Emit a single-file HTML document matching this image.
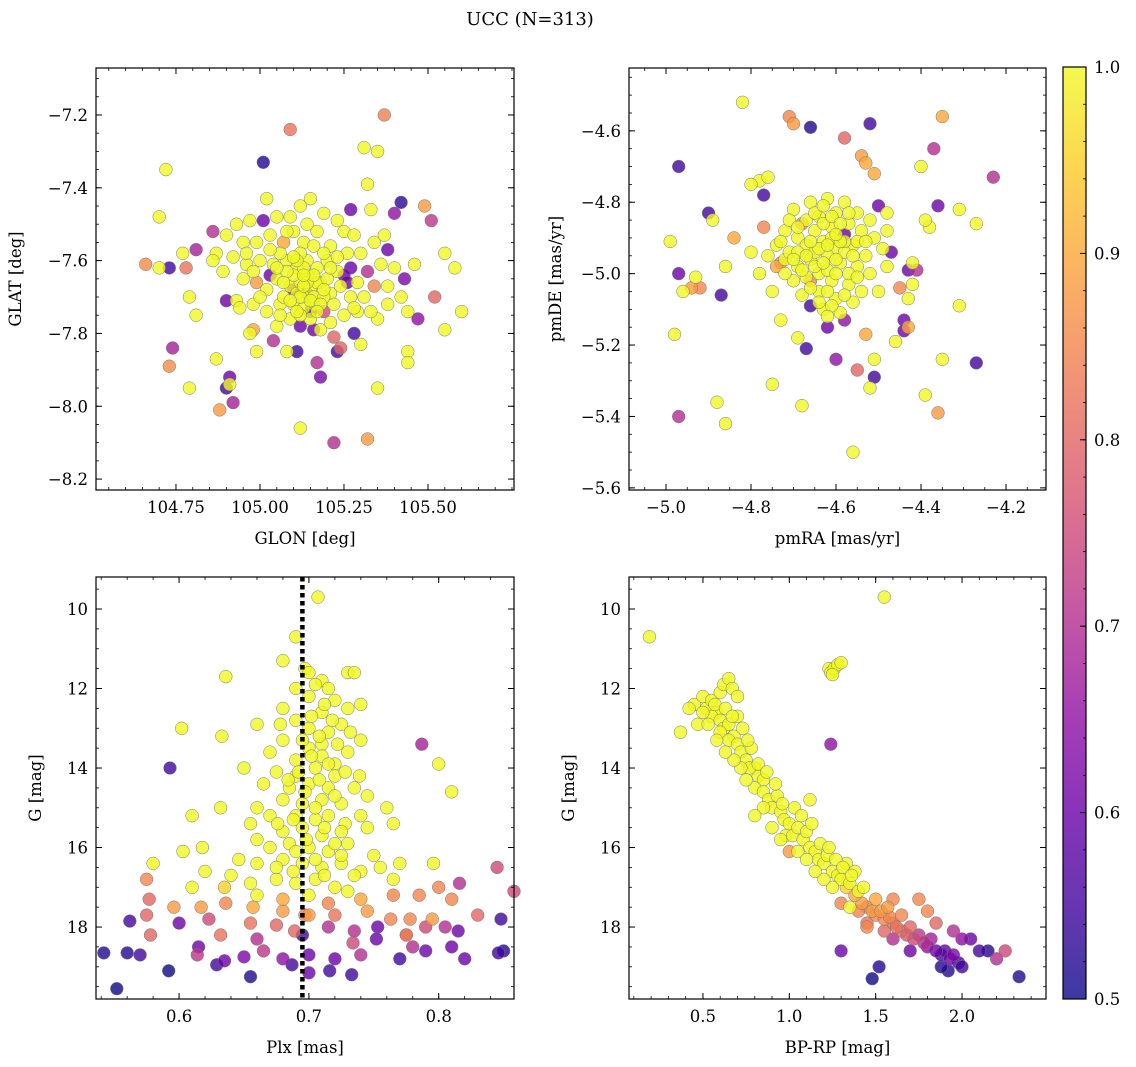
<!DOCTYPE html>
<html><head><meta charset="utf-8">
<style>
html,body{margin:0;padding:0;background:#fff;}
svg{display:block;font-family:"DejaVu Serif","Liberation Serif",serif;}
</style></head>
<body>
<svg id="fig" width="1136" height="1067" viewBox="0 0 1136 1067" xmlns="http://www.w3.org/2000/svg">
<text x="530" y="25" text-anchor="middle" font-size="18">UCC (N=313)</text>
</svg>
<script>
// ---------- data ----------
const stars1 = [
[105.09,-7.24,.82],[105.37,-7.20,.84],[104.72,-7.35,1],[105.01,-7.33,.52],[105.31,-7.29,1],[105.35,-7.30,1],[104.70,-7.48,1],[105.42,-7.44,.53],[105.51,-7.49,.72],[105.49,-7.45,.88],
[104.73,-7.62,.55],[104.66,-7.61,.86],[104.70,-7.62,1],[104.77,-7.58,1],[104.78,-7.62,.82],[104.79,-7.70,1],[104.81,-7.57,.68],[104.86,-7.52,.7],[104.79,-7.95,1],[104.74,-7.84,.68],
[104.73,-7.89,.86],[104.87,-7.87,1],[104.88,-8.01,.88],[104.90,-7.95,.55],[104.91,-7.92,.6],[104.91,-7.94,1],[104.92,-7.99,.68],[104.93,-7.71,1],[104.90,-7.71,.6],[104.81,-7.75,1],
[104.87,-7.58,1],[105.12,-8.06,1],[105.22,-8.10,.7],[105.32,-8.09,.88],[105.35,-7.95,1],[105.44,-7.85,1],[105.44,-7.88,1],[105.55,-7.79,1],[105.52,-7.70,.8],[105.58,-7.62,1],
[105.60,-7.74,1],[105.55,-7.58,1],[105.46,-7.61,1],[105.43,-7.65,.62],[105.47,-7.76,.65],[105.38,-7.57,.6],[105.40,-7.47,.65],[105.33,-7.46,1],[105.32,-7.39,1],[105.27,-7.46,.6],
[105.35,-7.76,1],[105.28,-7.80,.55],[105.23,-7.85,.55],[105.18,-7.92,.62],[105.17,-7.88,.7],[105.11,-7.85,.55],[105.08,-7.85,1],[104.99,-7.85,1],[104.97,-7.80,1],[104.98,-7.79,.9],
[105.04,-7.82,.7],[105.24,-7.84,.8],[105.30,-7.83,1],
[105.02,-7.43,1],[105.05,-7.48,1],[105.09,-7.48,1],[105.12,-7.45,1],[105.15,-7.43,1],[105.19,-7.47,1],[105.23,-7.49,1],[105.25,-7.52,1],[105.28,-7.53,1],[105.10,-7.52,1],
[104.97,-7.49,1],[104.93,-7.50,1],[104.90,-7.53,1],[104.95,-7.55,1],[104.99,-7.55,1],[105.03,-7.53,1],[105.07,-7.55,.9],[105.13,-7.55,1],[105.17,-7.52,1],[105.21,-7.56,1],
[105.26,-7.58,1],[105.30,-7.58,1],[105.34,-7.55,1],[105.36,-7.61,1],[105.32,-7.63,.7],[104.86,-7.60,1],[104.89,-7.63,1],[104.92,-7.59,1],[104.96,-7.61,1],[105.00,-7.60,1],
[105.04,-7.61,1],[105.08,-7.60,1],[105.11,-7.62,1],[105.14,-7.60,1],[105.17,-7.62,1],[105.20,-7.60,1],[105.23,-7.63,1],[105.27,-7.62,.6],[105.29,-7.66,1],[104.95,-7.65,1],
[104.99,-7.66,.88],[105.02,-7.68,1],[105.05,-7.65,1],[105.09,-7.67,1],[105.12,-7.66,1],[105.15,-7.68,1],[105.18,-7.66,1],[105.21,-7.69,1],[105.24,-7.67,1],[105.27,-7.70,1],
[105.31,-7.70,1],[105.34,-7.67,.85],[104.94,-7.73,1],[104.98,-7.72,1],[105.02,-7.74,1],[105.06,-7.72,1],[105.10,-7.72,1],[105.13,-7.70,1],[105.16,-7.72,1],[105.19,-7.74,.75],
[105.22,-7.72,1],[105.25,-7.75,1],[105.29,-7.74,1],[105.33,-7.74,1],[105.38,-7.72,1],[105.42,-7.70,1],[105.44,-7.74,1],[105.05,-7.78,1],[105.09,-7.76,1],[105.12,-7.78,.6],
[105.15,-7.76,1],[105.18,-7.79,1],[105.21,-7.77,1],[105.14,-7.64,1],[105.16,-7.70,1],[105.13,-7.73,1],[105.17,-7.66,1],[105.11,-7.69,1],[105.15,-7.74,.55],[105.19,-7.70,1],
[105.07,-7.70,1],[105.10,-7.64,1],[105.20,-7.65,1],[105.12,-7.58,1],[105.16,-7.56,1],[105.06,-7.58,1],[105.03,-7.64,.6],[105.25,-7.64,.6],[105.22,-7.81,.8],[105.01,-7.49,.6],
[105.38,-7.67,1],[105.40,-7.62,1],[105.37,-7.53,1],[104.98,-7.63,1],[105.08,-7.63,1],[105.13,-7.62,1],
[105.11,-7.60,1],[105.14,-7.66,1],[105.12,-7.70,1],[105.15,-7.71,1],[105.18,-7.72,1],[105.13,-7.67,1],[105.16,-7.64,1],[105.10,-7.68,.6],[105.14,-7.69,.55],[105.17,-7.74,1],
[105.12,-7.75,1],[105.09,-7.71,1],[105.19,-7.68,1],[105.21,-7.62,1],[105.07,-7.66,1],[105.05,-7.62,1],[105.03,-7.57,1],[105.00,-7.70,1],[104.96,-7.58,1],[105.23,-7.59,1],
[105.26,-7.66,.6],[105.28,-7.73,1],[105.10,-7.59,1],[105.08,-7.52,1],[105.14,-7.50,1],[105.19,-7.58,1],[105.06,-7.75,1],[105.16,-7.79,.6],[105.11,-7.74,1],[105.13,-7.64,1]
];
const stars2 = [
[-4.82,-4.52,1],[-4.71,-4.56,.85],[-4.70,-4.58,.88],[-4.66,-4.59,.52],[-4.52,-4.58,.55],[-4.58,-4.62,.8],[-4.35,-4.56,.9],[-4.97,-4.70,.55],[-4.54,-4.67,.88],[-4.53,-4.69,.9],
[-4.51,-4.72,.9],[-4.40,-4.70,1],[-4.37,-4.65,.7],[-4.23,-4.73,.7],[-4.78,-4.74,1],[-4.76,-4.73,1],[-4.80,-4.75,1],[-4.77,-4.78,.55],[-4.90,-4.83,.55],[-4.89,-4.85,1],
[-4.99,-4.91,1],[-4.84,-4.90,.9],[-4.86,-4.98,1],[-4.93,-5.01,1],[-4.97,-5.00,.6],[-4.94,-5.04,.88],[-4.92,-5.04,.85],[-4.96,-5.05,1],[-4.87,-5.06,.55],[-4.98,-5.17,1],
[-4.97,-5.40,.7],[-4.88,-5.36,1],[-4.86,-5.42,1],[-4.75,-5.31,1],[-4.67,-5.21,.55],[-4.68,-5.37,1],[-4.60,-5.24,.65],[-4.55,-5.27,.8],[-4.56,-5.50,1],[-4.51,-5.29,.55],
[-4.52,-5.32,1],[-4.51,-5.24,1],[-4.46,-5.19,1],[-4.44,-5.13,.6],[-4.44,-5.16,.6],[-4.43,-5.15,.9],[-4.36,-5.39,.88],[-4.35,-5.24,1],[-4.39,-5.34,1],[-4.31,-5.09,1],
[-4.27,-5.25,.55],[-4.42,-5.03,1],[-4.43,-4.99,.6],[-4.41,-4.99,.7],[-4.47,-4.94,.6],[-4.38,-4.87,1],[-4.36,-4.81,.6],[-4.39,-4.85,1],[-4.31,-4.82,1],[-4.27,-4.86,1],
[-4.42,-4.97,1],[-4.48,-4.83,1],[-4.50,-4.81,.6],[-4.48,-4.98,1],[-4.45,-5.04,.85],[-4.43,-5.07,1],[-4.73,-5.13,1],[-4.74,-4.98,.9],[-4.72,-4.96,1],[-4.66,-5.09,.55],
[-4.62,-5.15,.6],[-4.58,-5.13,.65],[-4.53,-5.17,.9],[-4.69,-5.18,1],
[-4.70,-4.82,1],[-4.66,-4.80,1],[-4.62,-4.79,1],[-4.58,-4.80,1],[-4.55,-4.83,1],[-4.52,-4.85,1],[-4.68,-4.86,.85],[-4.64,-4.84,1],[-4.60,-4.83,1],[-4.57,-4.86,1],
[-4.72,-4.88,1],[-4.69,-4.90,1],[-4.65,-4.88,1],[-4.61,-4.87,1],[-4.58,-4.89,.6],[-4.54,-4.88,1],[-4.51,-4.90,1],[-4.74,-4.92,1],[-4.71,-4.94,1],[-4.67,-4.92,1],
[-4.63,-4.91,1],[-4.60,-4.93,1],[-4.56,-4.92,1],[-4.53,-4.95,1],[-4.49,-4.93,1],[-4.73,-4.97,.85],[-4.69,-4.98,1],[-4.66,-4.96,1],[-4.62,-4.95,1],[-4.59,-4.97,1],
[-4.55,-4.98,1],[-4.52,-5.00,1],[-4.70,-5.02,1],[-4.67,-5.01,1],[-4.64,-5.00,1],[-4.61,-5.02,1],[-4.57,-5.03,1],[-4.54,-5.05,1],[-4.68,-5.06,1],[-4.64,-5.05,1],
[-4.60,-5.07,1],[-4.56,-5.08,1],[-4.63,-5.10,1],[-4.59,-5.11,1],[-4.62,-4.99,1],[-4.65,-4.94,1],[-4.58,-4.94,1],[-4.63,-4.86,1],[-4.66,-5.04,1],[-4.71,-4.85,1],
[-4.76,-4.95,1],[-4.78,-5.00,1],[-4.75,-5.05,1],[-4.77,-4.87,.85],[-4.80,-4.94,1],[-4.50,-5.05,1],[-4.48,-4.88,1],[-4.61,-4.90,1],[-4.57,-5.00,1],[-4.65,-4.98,1],
[-4.69,-4.94,1],[-4.73,-4.91,1],[-4.55,-4.91,1],[-4.62,-5.05,1],
[-4.64,-4.93,1],[-4.60,-4.96,1],[-4.62,-4.92,1],[-4.58,-4.91,1],[-4.66,-4.91,1],[-4.63,-4.97,1],[-4.61,-4.84,1],[-4.59,-4.86,1],[-4.56,-4.95,1],[-4.67,-4.85,1],
[-4.69,-4.87,1],[-4.65,-4.83,1],[-4.60,-5.00,1],[-4.58,-5.06,1],[-4.55,-5.01,1],[-4.53,-4.91,1],[-4.70,-4.96,1],[-4.68,-4.99,1],[-4.66,-5.02,.85],[-4.64,-5.08,1],
[-4.61,-5.09,1],[-4.57,-4.83,1],[-4.63,-4.81,1],[-4.59,-4.91,1],[-4.67,-4.95,1],[-4.72,-5.00,1],[-4.60,-4.89,1],[-4.62,-5.12,1]
];
const stars3 = [
[0.707,9.7,1],[0.69,10.7,1],[0.68,11.3,1],[0.697,11.5,1],[0.70,11.6,1],[0.71,11.8,1],[0.73,11.6,1],[0.735,11.6,1],[0.636,11.7,1],[0.69,12.0,1],
[0.70,12.2,1],[0.715,12.0,1],[0.72,12.3,1],[0.68,12.5,1],[0.71,12.6,1],[0.73,12.5,1],[0.74,12.4,1],[0.602,13.0,1],[0.66,12.9,1],[0.69,12.8,1],
[0.70,13.0,1],[0.715,13.1,1],[0.725,12.9,1],[0.633,13.2,1],[0.68,13.3,1],[0.70,13.5,1],[0.71,13.4,1],[0.73,13.6,1],[0.74,13.3,1],[0.67,13.6,1],
[0.69,13.8,1],[0.71,13.7,1],[0.72,13.9,1],[0.65,14.0,1],[0.675,14.1,1],[0.69,14.2,1],[0.705,14.0,1],[0.72,14.2,1],[0.739,14.2,1],[0.80,13.9,1],
[0.787,13.4,.68],[0.593,14.0,.55],[0.665,14.4,1],[0.685,14.5,1],[0.70,14.4,1],[0.715,14.5,1],[0.735,14.5,1],[0.81,14.6,1],[0.68,14.8,1],[0.695,14.9,1],
[0.71,14.8,1],[0.725,14.9,1],[0.745,14.7,1],[0.632,15.0,1],[0.66,15.0,1],[0.67,15.2,1],[0.69,15.2,1],[0.705,15.3,1],[0.715,15.2,1],[0.728,15.4,1],
[0.74,15.2,1],[0.76,15.0,1],[0.61,15.2,1],[0.655,15.4,1],[0.68,15.6,1],[0.695,15.5,1],[0.71,15.7,1],[0.725,15.6,1],[0.745,15.5,1],[0.765,15.4,1],
[0.66,15.8,1],[0.67,16.0,1],[0.685,15.9,1],[0.70,16.0,1],[0.715,16.1,1],[0.73,15.9,1],[0.75,16.2,1],[0.603,16.1,1],[0.618,16.0,1],[0.646,16.3,1],
[0.66,16.4,1],[0.68,16.3,1],[0.695,16.4,1],[0.71,16.5,1],[0.725,16.4,1],[0.74,16.6,1],[0.755,16.5,1],[0.77,16.4,1],[0.796,16.4,1],[0.58,16.4,1],
[0.62,16.6,1],[0.64,16.7,1],[0.655,16.9,1],[0.675,16.8,1],[0.69,16.9,1],[0.705,16.8,1],[0.72,17.0,1],[0.735,16.7,1],[0.765,16.8,1],[0.575,16.8,.85],
[0.61,17.0,1],[0.635,17.0,.95],[0.66,17.2,1],[0.68,17.3,.9],[0.70,17.2,1],[0.715,17.4,.85],[0.74,17.3,.9],[0.765,17.2,.85],[0.785,17.2,.85],[0.80,17.0,.85],
[0.81,17.3,.85],[0.577,17.3,.8],[0.596,17.5,.88],[0.617,17.5,.88],[0.636,17.4,.85],[0.657,17.5,.9],[0.68,17.6,.88],[0.697,17.7,.85],[0.72,17.7,.82],[0.745,17.6,.88],
[0.763,17.8,.85],[0.778,17.8,.85],[0.795,17.8,.88],[0.83,17.7,.8],[0.845,16.5,.75],[0.858,17.1,.75],[0.816,16.9,.7],[0.575,17.7,.8],[0.562,17.85,.55],[0.60,17.9,.6],
[0.623,17.8,.75],[0.655,17.9,.82],[0.675,17.95,.8],[0.70,17.7,.88],[0.715,18.0,.7],[0.735,18.1,.7],[0.753,18.0,.6],[0.775,18.2,.85],[0.79,18.0,.75],[0.805,18.0,.7],
[0.815,18.1,.6],[0.848,17.8,.55],[0.578,18.2,.8],[0.615,18.5,.6],[0.632,18.2,.82],[0.66,18.3,.7],[0.689,18.1,.8],[0.695,18.2,.55],[0.734,18.4,.75],[0.752,18.3,.6],
[0.775,18.2,.7],[0.78,18.5,.7],[0.81,18.5,.6],[0.542,18.65,.52],[0.56,18.65,.52],[0.57,18.7,.55],[0.614,18.7,.72],[0.635,18.85,.6],[0.65,18.75,.62],[0.665,18.6,.72],
[0.68,18.8,.65],[0.70,18.7,.6],[0.72,18.8,.6],[0.74,18.7,.7],[0.77,18.8,.55],[0.79,18.6,.6],[0.82,18.8,.6],[0.846,18.65,.55],[0.85,18.6,.52],[0.629,18.95,.55],
[0.687,18.95,.55],[0.716,19.1,.55],[0.733,19.2,.55],[0.592,19.1,.5],[0.655,19.25,.52],[0.552,19.55,.5],[0.70,19.15,.6],
[0.705,11.9,1],[0.712,12.4,1],[0.702,12.7,1],[0.718,12.8,1],[0.708,13.2,1],[0.695,13.3,1],[0.722,13.4,1],[0.702,13.7,1],[0.715,13.9,1],[0.692,14.1,1],
[0.708,14.3,1],[0.697,14.6,1],[0.72,14.7,1],[0.705,15.0,1],[0.688,15.3,1],[0.712,15.5,1],[0.698,15.8,1],[0.72,15.9,1],[0.69,16.1,1],[0.705,16.3,1],
[0.725,16.2,1],[0.688,16.6,1],[0.712,16.7,1],[0.73,17.1,1],[0.676,15.4,1],[0.684,14.3,1],[0.728,14.1,1],[0.678,12.9,1],[0.732,13.1,1],[0.675,16.5,1]
];
const stars4 = [
[0.19,10.7,1],[1.55,9.7,1],[1.23,11.5,1],[1.24,11.6,1],[1.26,11.5,1],[1.28,11.4,1],[1.30,11.35,1],[1.25,11.65,1],[1.24,13.4,.65],[0.37,13.1,1],
[0.45,12.4,1],[0.50,12.2,1],[0.52,12.5,1],[0.55,12.3,1],[0.58,12.6,1],[0.60,12.1,1],[0.62,11.9,1],[0.65,11.75,1],[0.67,12.0,1],[0.70,12.2,1],
[0.55,12.7,1],[0.60,12.8,1],[0.62,13.0,1],[0.65,12.9,1],[0.68,13.2,1],[0.60,13.1,1],[0.65,13.3,1],[0.70,13.4,1],[0.72,13.6,1],[0.75,13.8,1],
[0.78,13.5,1],[0.80,14.0,1],[0.82,14.2,1],[0.85,14.3,1],[0.77,14.0,1],[0.80,14.5,1],[0.85,14.6,1],[0.88,14.8,1],[0.90,15.0,1],[0.93,14.7,1],
[0.95,15.1,1],[0.97,15.3,1],[1.00,15.4,1],[0.98,15.7,1],[1.02,15.7,1],[1.05,15.5,1],[1.08,15.8,1],[1.10,15.6,1],[1.12,16.0,1],[1.15,16.1,1],
[1.17,16.3,1],[1.20,16.4,1],[1.05,16.1,1],[1.10,16.3,1],[1.22,16.2,1],[1.25,16.6,1],[1.28,16.7,1],[1.30,16.8,1],[1.33,17.0,.95],[1.35,16.9,1],
[1.38,17.2,.9],[1.40,17.1,1],[1.42,17.4,.88],[1.45,17.5,.85],[1.48,17.6,.88],[1.50,17.7,.85],[1.53,17.6,.88],[1.55,17.8,.85],[1.58,17.75,.85],[1.60,17.9,.82],
[1.62,18.0,.82],[1.65,18.1,.8],[1.68,18.2,.78],[1.70,18.0,.8],[1.72,18.3,.75],[1.75,18.2,.72],[1.78,18.4,.7],[1.80,18.5,.65],[1.82,18.3,.68],[1.85,18.6,.6],
[1.88,18.7,.55],[1.90,18.6,.58],[1.93,18.8,.6],[1.95,18.7,.62],[1.98,18.9,.55],[2.00,19.0,.55],[2.05,18.3,.6],[2.10,18.6,.55],[2.15,18.6,.52],[2.20,18.8,.7],
[2.25,18.6,.75],[2.33,19.25,.52],[1.92,19.1,.52],[1.88,19.0,.52],[1.52,19.0,.52],[1.48,19.3,.5],[1.30,18.6,.6],[1.00,16.1,.88],[0.95,15.8,1],[0.90,15.5,1],
[0.85,15.0,1],[0.80,15.2,1],[0.75,14.3,1],[0.72,14.0,1],[0.68,13.8,1],[0.70,12.7,1],[0.50,12.6,1],[0.47,12.9,1],[0.42,12.5,1],[0.53,12.9,1],
[0.58,13.3,1],[0.63,13.6,1],[1.12,14.8,1],[1.03,15.0,1],[1.30,17.4,.85],[1.40,17.6,.85],[1.35,17.5,1],[1.45,17.9,.82],[1.60,17.3,.85],[1.75,17.3,.85],
[1.80,17.6,.85],[1.85,17.9,.8],[2.00,18.3,.65],[1.95,18.1,.7],[1.70,18.6,.6],[1.60,18.3,.7],[1.55,18.1,.8],[1.45,18.0,.85],[1.25,17.0,1],[1.20,16.8,1],
[1.15,16.6,1],[1.33,16.4,1],[1.38,16.6,1],
[0.57,12.4,1],[0.63,12.5,1],[0.67,12.7,1],[0.73,13.0,1],[0.76,13.3,1],[0.82,13.9,1],[0.87,14.1,1],[0.92,14.4,1],[0.96,14.9,1],[1.07,15.2,1],
[1.13,15.4,1],[1.18,15.9,1],[1.23,16.0,1],[1.27,16.3,1],[1.31,16.5,1],[1.36,16.7,1],[1.43,17.0,1],[1.50,17.3,.9],[1.57,17.5,.88],[1.65,17.7,.85]
];
const plxLine = 0.695;
const p1XTicks = [104.75,105.00,105.25,105.50];
const p1YTicks = [-7.2,-7.4,-7.6,-7.8,-8.0,-8.2];
const p2XTicks = [-5.0,-4.8,-4.6,-4.4,-4.2];
const p2YTicks = [-4.6,-4.8,-5.0,-5.2,-5.4,-5.6];
const p3XTicks = [0.6,0.7,0.8];
const gTicks = [10,12,14,16,18];
const p4XTicks = [0.5,1.0,1.5,2.0];
const cbTicks = [0.5,0.6,0.7,0.8,0.9,1.0];

// ---------- helpers ----------
const NS="http://www.w3.org/2000/svg";
const svg=document.getElementById('fig');
function mk(tag,attrs,parent){const e=document.createElementNS(NS,tag);for(const k in attrs)e.setAttribute(k,attrs[k]);(parent||svg).appendChild(e);return e;}
const stops=['#0d0887','#41049d','#6a00a8','#8f0da4','#b12a90','#cc4778','#e16462','#f2844b','#fca636','#fcce25','#f0f921'];
function hex(h){return [1,3,5].map(i=>parseInt(h.substr(i,2),16));}
function plasma(p){let t=(p-0.5)/0.5;t=Math.max(0,Math.min(1,t))*10;const i=Math.min(9,Math.floor(t)),f=t-i;const a=hex(stops[i]),b=hex(stops[i+1]);return 'rgb('+a.map((v,k)=>Math.round(v+(b[k]-v)*f)).join(',')+')';}
function fmt(v,d){return (v<0?'\u2212':'')+Math.abs(v).toFixed(d);}

function panel(o){
  const g=mk('g',{});
  
  
  const sx=v=>o.x0+(v-o.xmin)/(o.xmax-o.xmin)*(o.x1-o.x0);
  const sy=v=>o.y0+(o.ymax-v)/(o.ymax-o.ymin)*(o.y1-o.y0);
  const pts=o.data.slice().sort((a,b)=>a[2]-b[2]);
  const pg=mk('g',{},g);
  
  
  pts.forEach(d=>{
    const c=mk('circle',{cx:sx(d[0]).toFixed(1),cy:sy(d[1]).toFixed(1),r:6.4,fill:plasma(d[2]),'fill-opacity':0.8,stroke:'#777','stroke-width':0.5},pg);
    
    
  });
  if(o.vline!==undefined){
    const l=mk('line',{x1:sx(o.vline),x2:sx(o.vline),y1:o.y0,y2:o.y1,stroke:'#000','stroke-width':4.5,'stroke-dasharray':'4.5,3.5'},g);
    
    
  }
  const fr=mk('rect',{x:o.x0,y:o.y0,width:o.x1-o.x0,height:o.y1-o.y0,fill:'none',stroke:'#000','stroke-width':1.2},g);
  
  
  const lo=Math.min(o.ymin,o.ymax), hi=Math.max(o.ymin,o.ymax);
  for(let v=Math.ceil(o.xmin/o.xminor)*o.xminor;v<=o.xmax;v+=o.xminor){const x=sx(v);
    mk('line',{x1:x,x2:x,y1:o.y1,y2:o.y1-3,stroke:'#000','stroke-width':0.8},g);mk('line',{x1:x,x2:x,y1:o.y0,y2:o.y0+3,stroke:'#000','stroke-width':0.8},g);}
  for(let v=Math.ceil(lo/o.yminor)*o.yminor;v<=hi;v+=o.yminor){const y=sy(v);
    mk('line',{x1:o.x0,x2:o.x0+3,y1:y,y2:y,stroke:'#000','stroke-width':0.8},g);mk('line',{x1:o.x1,x2:o.x1-3,y1:y,y2:y,stroke:'#000','stroke-width':0.8},g);}
  o.xt.forEach(v=>{const x=sx(v);
    mk('line',{x1:x,x2:x,y1:o.y1,y2:o.y1-6,stroke:'#000','stroke-width':1},g);mk('line',{x1:x,x2:x,y1:o.y0,y2:o.y0+6,stroke:'#000','stroke-width':1},g);
    const t=mk('text',{x:x,y:o.y1+23,'text-anchor':'middle','font-size':16.5},g);t.textContent=fmt(v,o.xd);
    
    });
  o.yt.forEach(v=>{const y=sy(v);
    mk('line',{x1:o.x0,x2:o.x0+6,y1:y,y2:y,stroke:'#000','stroke-width':1},g);mk('line',{x1:o.x1,x2:o.x1-6,y1:y,y2:y,stroke:'#000','stroke-width':1},g);
    const t=mk('text',{x:o.x0-8,y:y+6,'text-anchor':'end','font-size':16.5},g);t.textContent=fmt(v,o.yd);
    
    });
  const xl=mk('text',{x:(o.x0+o.x1)/2,y:o.y1+54,'text-anchor':'middle','font-size':16.5},g);xl.textContent=o.xlab;
  
  
  const cy=(o.y0+o.y1)/2, cx=o.x0-o.ylabOff;
  const yl=mk('text',{x:cx,y:cy,'text-anchor':'middle','font-size':16.5,transform:'rotate(-90 '+cx+' '+cy+')'},g);yl.textContent=o.ylab;
  
  
}

panel({name:'glon-glat-panel',data:stars1,x0:96,x1:514,y0:68,y1:490,xmin:104.512,xmax:105.756,ymin:-8.230,ymax:-7.071,
  xt:p1XTicks,yt:p1YTicks,xd:2,yd:1,xminor:0.05,yminor:0.05,xlab:'GLON [deg]',ylab:'GLAT [deg]',ylabOff:75});
panel({name:'pm-panel',data:stars2,x0:629,x1:1046,y0:68,y1:490,xmin:-5.087,xmax:-4.106,ymin:-5.606,ymax:-4.424,
  xt:p2XTicks,yt:p2YTicks,xd:1,yd:1,xminor:0.05,yminor:0.05,xlab:'pmRA [mas/yr]',ylab:'pmDE [mas/yr]',ylabOff:68});
panel({name:'plx-g-panel',data:stars3,x0:96,x1:514,y0:577,y1:999,xmin:0.536,xmax:0.858,ymin:19.81,ymax:9.195,
  xt:p3XTicks,yt:gTicks,xd:1,yd:0,xminor:0.02,yminor:0.5,xlab:'Plx [mas]',ylab:'G [mag]',ylabOff:55,vline:plxLine});
panel({name:'cmd-panel',data:stars4,x0:629,x1:1046,y0:577,y1:999,xmin:0.072,xmax:2.486,ymin:19.81,ymax:9.195,
  xt:p4XTicks,yt:gTicks,xd:1,yd:0,xminor:0.1,yminor:0.5,xlab:'BP-RP [mag]',ylab:'G [mag]',ylabOff:55});

// colorbar
(function(){
  const x0=1063,x1=1086,y0=67,y1=999;
  const g=mk('g',{});
  
  
  const defs=mk('defs',{},g);
  const lg=mk('linearGradient',{id:'cbg',x1:0,y1:1,x2:0,y2:0},defs);
  for(let i=0;i<=20;i++){const p=0.5+i*0.025;mk('stop',{offset:(i/20),'stop-color':plasma(p),'stop-opacity':0.8},lg);}
  const r=mk('rect',{x:x0,y:y0,width:x1-x0,height:y1-y0,fill:'url(#cbg)',stroke:'#000','stroke-width':1.2},g);
  
  
  const sy=v=>y1-(v-0.5)/0.5*(y1-y0);
  for(let i=0;i<=25;i++){const v=0.5+i*0.02,y=sy(v);mk('line',{x1:x1,x2:x1-3,y1:y,y2:y,stroke:'#000','stroke-width':0.8},g);}
  cbTicks.forEach(v=>{const y=sy(v);mk('line',{x1:x1,x2:x1-6,y1:y,y2:y,stroke:'#000','stroke-width':1},g);
    const t=mk('text',{x:x1+8,y:y+6,'font-size':16.5},g);t.textContent=v.toFixed(1);
    
    });
})();
</script>
</body></html>
